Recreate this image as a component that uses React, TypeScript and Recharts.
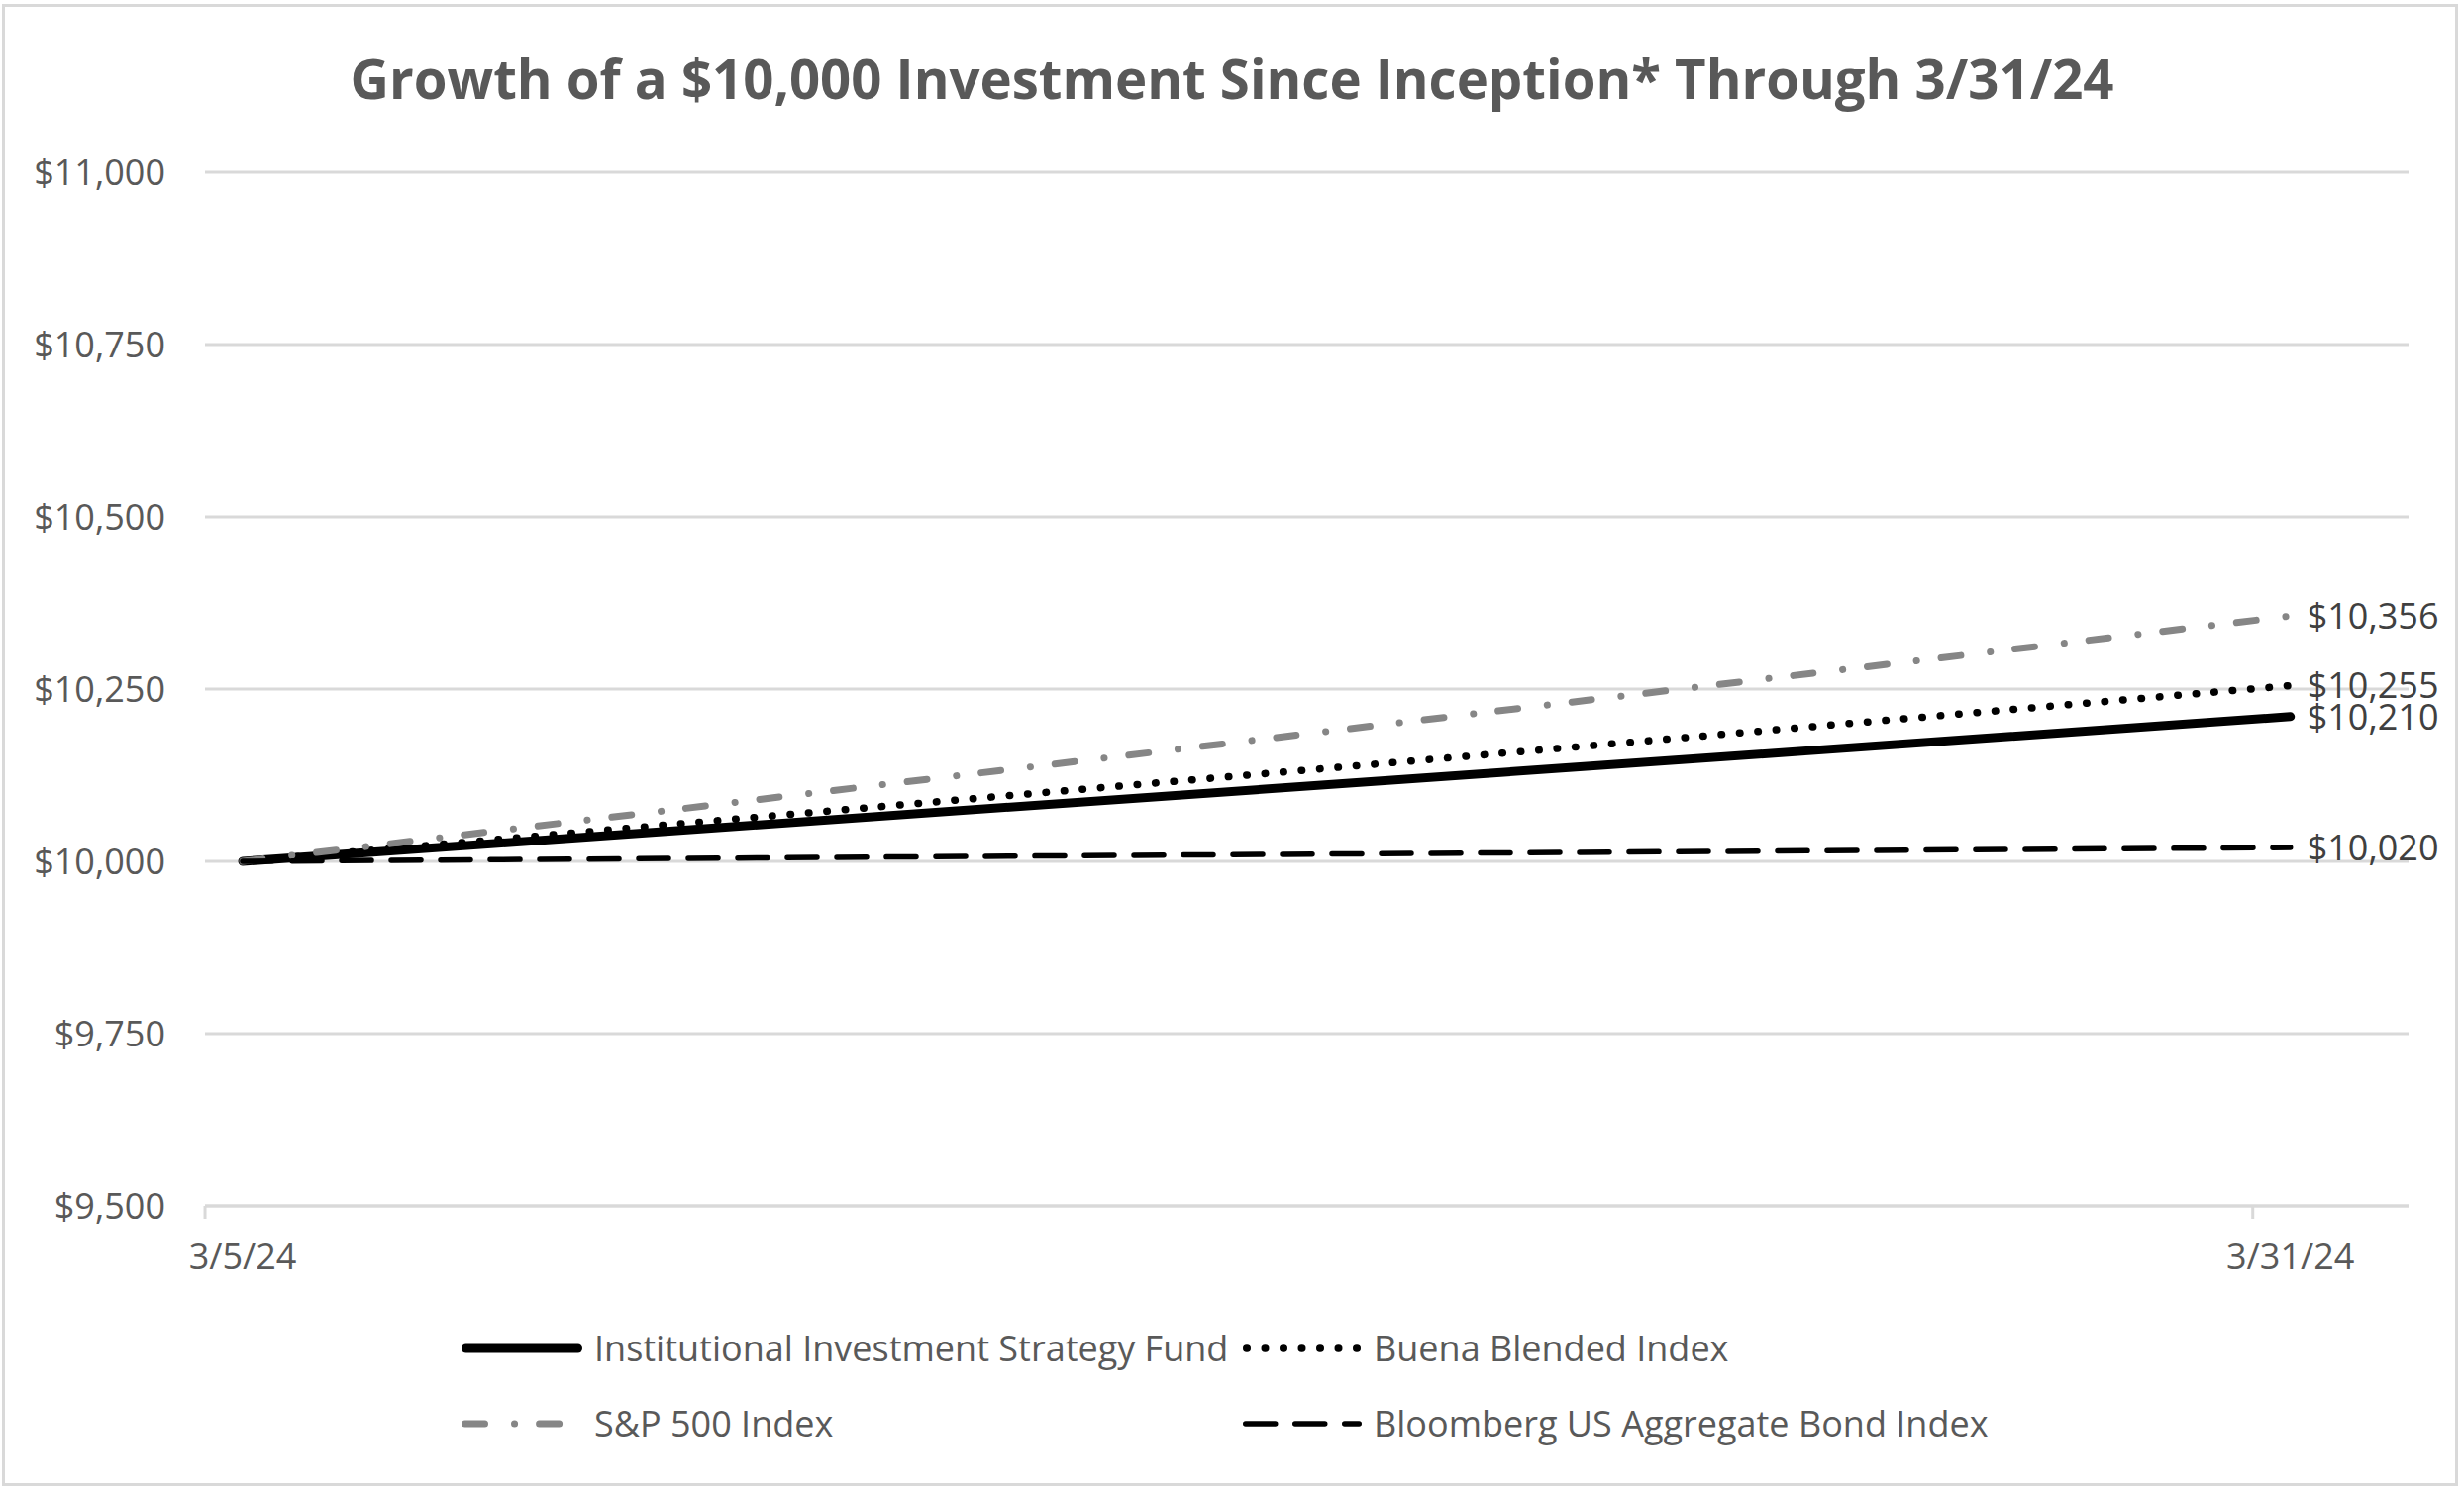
import { LineChart, Line, XAxis, YAxis, CartesianGrid, Legend, LabelList } from "recharts";

// dates shown on the x axis and their day offset from inception
const dates = ["3/5/24", "3/31/24"];
const dayOffsets = [0, 26];

// growth of $10,000 for each series
const fundValues = [10000, 10210];
const buenaValues = [10000, 10255];
const sp500Values = [10000, 10356];
const bondValues = [10000, 10020];

const yTicks = [9500, 9750, 10000, 10250, 10500, 10750, 11000];

const FONT = "'Open Sans', 'Noto Sans', sans-serif";
const TEXT = "#595959";
const GRID = "#d9d9d9";

const SERIES = [
  { key: "fund", name: "Institutional Investment Strategy Fund", stroke: "#000000", width: 9, dash: undefined as string | undefined },
  { key: "buena", name: "Buena Blended Index", stroke: "#000000", width: 7.5, dash: "0.5 18" },
  { key: "sp500", name: "S&P 500 Index", stroke: "#868686", width: 7, dash: "20 30 0.1 25" },
  { key: "bond", name: "Bloomberg US Aggregate Bond Index", stroke: "#000000", width: 5.5, dash: "30 20" },
];

const data = dates.map((label, i) => ({
  day: dayOffsets[i],
  label,
  fund: fundValues[i],
  buena: buenaValues[i],
  sp500: sp500Values[i],
  bond: bondValues[i],
}));

const money = (v: number) => "$" + v.toLocaleString("en-US");

function XTick({ x, y, payload }: any) {
  const idx = dayOffsets.indexOf(payload.value);
  return (
    <g>
      <line x1={x - 38} x2={x - 38} y1={y} y2={y + 13} stroke={GRID} strokeWidth={3} />
      <text x={x} y={y + 64} textAnchor="middle" fill={TEXT} fontSize={36} fontFamily={FONT}>
        {idx >= 0 ? dates[idx] : ""}
      </text>
    </g>
  );
}

function EndLabel(props: any) {
  const { x, y, value, index } = props;
  if (index !== dates.length - 1) return null;
  return (
    <text x={x + 17} y={y} dy="0.36em" fill="#404040" fontSize={36} fontFamily={FONT}>
      {money(value)}
    </text>
  );
}

// legend: two columns, two rows, Excel style
function LegendBox() {
  const cols = [466, 1255];
  const rows = [42, 118];
  return (
    <svg width={2488} height={160}>
      {SERIES.map((s, i) => {
        const x = cols[i % 2];
        const y = rows[Math.floor(i / 2)];
        const w = i % 2 === 0 ? 122 : 120;
        return (
          <g key={s.key}>
            <line
              x1={x + s.width / 2}
              x2={x + w - s.width / 2}
              y1={y}
              y2={y}
              stroke={s.stroke}
              strokeWidth={s.width}
              strokeDasharray={s.dash}
              strokeLinecap="round"
            />
            <text x={x + w + 12} y={y} dy="0.36em" fill={TEXT} fontSize={36} fontFamily={FONT}>
              {s.name}
            </text>
          </g>
        );
      })}
    </svg>
  );
}

export default function App() {
  return (
    <div style={{ position: "absolute", left: 0, top: 0, width: 2488, height: 1507, background: "#fff" }}>
      <div
        style={{
          position: "absolute",
          left: 2,
          top: 4,
          width: 2474,
          height: 1491,
          border: `3px solid ${GRID}`,
        }}
      />
      <svg style={{ position: "absolute", left: 0, top: 0 }} width={2488} height={140}>
        <text
          x={1244}
          y={100}
          textAnchor="middle"
          fill={TEXT}
          fontSize={56}
          fontWeight={700}
          fontFamily={FONT}
          textLength={1781}
          lengthAdjust="spacingAndGlyphs"
        >
          Growth of a $10,000 Investment Since Inception* Through 3/31/24
        </text>
      </svg>
      <div style={{ position: "absolute", left: 0, top: 0 }}>
        <LineChart
          width={2488}
          height={1507}
          data={data}
          margin={{ top: 174, right: 56, bottom: 229, left: 0 }}
        >
          <CartesianGrid horizontal vertical={false} stroke={GRID} strokeWidth={3} />
          <XAxis
            dataKey="day"
            type="number"
            domain={[-0.478, 27.5]}
            ticks={dayOffsets}
            height={60}
            axisLine={{ stroke: GRID, strokeWidth: 3 }}
            tickLine={false}
            tickSize={0}
            tickMargin={0}
            tick={<XTick />}
            interval={0}
          />
          <YAxis
            domain={[9500, 11000]}
            ticks={yTicks}
            width={207}
            axisLine={false}
            tickLine={false}
            tickSize={0}
            tickMargin={40}
            tickFormatter={money}
            tick={{ fontSize: 36, fill: TEXT, fontFamily: FONT }}
            interval={0}
          />
          <Legend
            layout="horizontal"
            verticalAlign="middle"
            align="center"
            content={<LegendBox />}
            wrapperStyle={{ position: "absolute", left: 0, top: 1320, width: 2488, height: 160 }}
          />
          {SERIES.map((s) => (
            <Line
              key={s.key}
              type="linear"
              dataKey={s.key}
              name={s.name}
              stroke={s.stroke}
              strokeWidth={s.width}
              strokeDasharray={s.dash}
              strokeLinecap="round"
              dot={false}
              activeDot={false}
              isAnimationActive={false}
            >
              <LabelList dataKey={s.key} content={<EndLabel />} />
            </Line>
          ))}
        </LineChart>
      </div>
    </div>
  );
}
